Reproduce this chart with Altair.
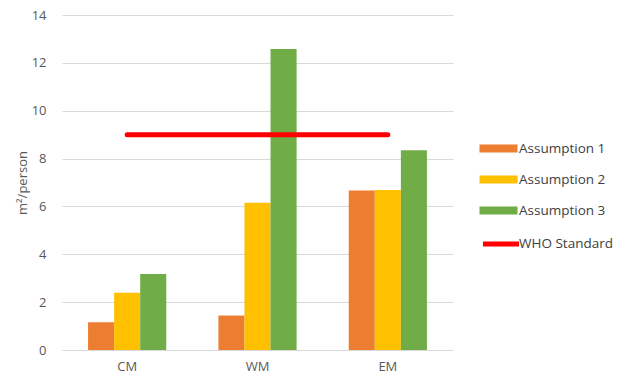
import altair as alt
import pandas as pd

categories = ["CM", "WM", "EM"]
series = ["Assumption 1", "Assumption 2", "Assumption 3"]
a1 = [1.16, 1.44, 6.67]
a2 = [2.39, 6.15, 6.69]
a3 = [3.18, 12.58, 8.35]
who_label = "WHO Standard"
who_value = 9

bar_colors = ["#ED7D31", "#FFC000", "#70AD47"]
who_color = "#FF0000"

rows = []
for s, vals in zip(series, [a1, a2, a3]):
    for c, v in zip(categories, vals):
        rows.append({"category": c, "series": s, "value": v})
bars_df = pd.DataFrame(rows)
who_df = pd.DataFrame({"category": categories, "value": [who_value] * 3, "who": [who_label] * 3})

font = "Open Sans"
gray = "#595959"

rect_path = "M-2,-0.42H2V0.42H-2Z"
line_path = "M-1.9,0H1.9"

common = dict(
    title=None,
    orient="none",
    legendX=427,
    padding=0,
    symbolSize=361,
    labelFont=font,
    labelFontSize=13.5,
    labelColor="#404040",
)

bar_legend = alt.Legend(legendY=124, symbolType=rect_path, symbolStrokeWidth=0, symbolOpacity=1,
                        rowPadding=15, labelOffset=11, **common)
line_legend = alt.Legend(legendY=217, symbolType=line_path, symbolStrokeWidth=5, symbolOpacity=1,
                         labelOffset=6, **common)

x = alt.X(
    "category:N",
    sort=categories,
    title=None,
    scale=alt.Scale(paddingInner=0.4, paddingOuter=0.2),
    axis=alt.Axis(labelAngle=0, domain=False, ticks=False, labelPadding=10,
                  labelFont=font, labelFontSize=13, labelColor=gray),
)

bars = alt.Chart(bars_df).mark_bar().encode(
    x=x,
    xOffset=alt.XOffset("series:N", sort=series, scale=alt.Scale(domain=series, paddingInner=0, paddingOuter=0)),
    y=alt.Y(
        "value:Q",
        title="m²/person",
        scale=alt.Scale(domain=[0, 14], nice=False),
        axis=alt.Axis(values=list(range(0, 15, 2)), domain=False, ticks=False, labelPadding=16,
                      labelFont=font, labelFontSize=13, labelColor=gray,
                      titleFont=font, titleFontSize=13, titleFontWeight="normal", titleColor=gray,
                      titlePadding=2, gridColor="#D9D9D9", gridWidth=1),
    ),
    color=alt.Color("series:N", scale=alt.Scale(domain=series, range=bar_colors), legend=bar_legend),
)

line = alt.Chart(who_df).mark_line(strokeWidth=5, strokeCap="round").encode(
    x=alt.X("category:N", sort=categories),
    y=alt.Y("value:Q"),
    stroke=alt.Stroke("who:N", scale=alt.Scale(domain=[who_label], range=[who_color]), legend=line_legend),
)

chart = alt.layer(bars, line).resolve_scale(color="independent").properties(
    width=391,
    height=335,
    autosize=alt.AutoSizeParams(type="none"),
    padding={"left": 62, "top": 15, "right": 165, "bottom": 29},
    background="white",
).configure_view(stroke=None)

chart.save("out.html", embed_options={"renderer": "svg", "actions": False})
